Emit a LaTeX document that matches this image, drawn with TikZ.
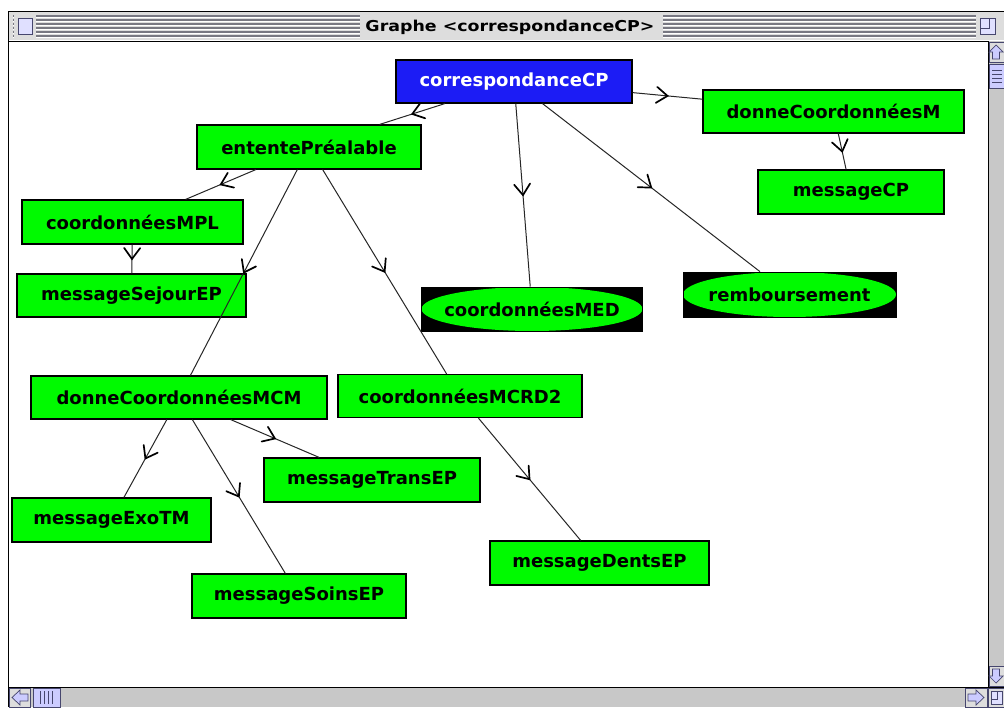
\documentclass[tikz,border=0pt]{standalone}
\usepackage{fontspec}
\usetikzlibrary{decorations.markings}
\newfontfamily\nodefont{DejaVu Sans}
\newfontfamily\titlefont{DejaVu Sans}[FakeStretch=1.16]

\definecolor{nodegreen}{RGB}{0,250,0}
\definecolor{rootblue}{RGB}{28,28,245}
\definecolor{barface}{RGB}{221,221,221}
\definecolor{stripe}{RGB}{120,120,130}
\definecolor{lavender}{RGB}{204,204,255}
\definecolor{lavedge}{RGB}{70,70,110}
\definecolor{track}{RGB}{200,200,200}

\tikzset{
  gbox/.style={draw=black, line width=1.2pt, fill=nodegreen, inner sep=0pt,
    font=\nodefont\bfseries\fontsize{18}{20}\selectfont, text=black},
  rootbox/.style={gbox, fill=rootblue, text=white},
  ovalbox/.style 2 args={draw=black, line width=0.8pt, fill=black, inner sep=0pt,
    font=\nodefont\bfseries\fontsize{18}{20}\selectfont, text=black,
    path picture={\fill[nodegreen] (path picture bounding box.center)
      ellipse [x radius=#1, y radius=#2];}},
  % open barbed head placed halfway along each connector
  link/.style={draw=black!85, line width=1pt,
    decoration={markings, mark=at position 0.5 with
      {\draw[black, line width=1.7pt, line cap=round, line join=miter]
         (-11pt,8pt) .. controls (-6pt,4pt) .. (0pt,0pt)
         .. controls (-6pt,-4pt) .. (-11pt,-8pt);}},
    postaction={decorate}},
  chrome/.style={draw=black, line width=1pt},
  scrollbtn/.style={fill=barface, draw=lavedge, line width=0.6pt},
  glyph/.style={fill=lavender, draw=lavedge, line width=0.7pt},
}

\begin{document}
\begin{tikzpicture}[x=1pt,y=-1pt]
\useasboundingbox (0,0) rectangle (1004,707);
\fill[white] (0,0) rectangle (1004,707);

% ---------- window title bar ----------
\fill[barface] (9,11) rectangle (1004,40);
\foreach \yy in {16,20,24,28,32,36}{
  \draw[stripe, line width=1.1pt] (13,\yy) -- (360,\yy) (663,\yy) -- (977,\yy);
  \draw[white, line width=0.8pt] (13,\yy+1.3) -- (360,\yy+1.3) (663,\yy+1.3) -- (977,\yy+1.3);
}
% close box
\fill[barface] (14,13) rectangle (36,39);
\draw[lavedge, fill=lavender!60, line width=0.8pt] (18,18) rectangle (32,34);
% zoom box
\fill[barface] (976,13) rectangle (1000,39);
\draw[lavedge, fill=lavender!60, line width=0.8pt] (980,18) rectangle (995,34);
\draw[lavedge, line width=0.8pt] (980,28) -- (989,28) -- (989,18);
\node[font=\titlefont\bfseries\fontsize{15}{17}\selectfont, inner sep=0pt] (title)
  at (510,27) {Graphe <correspondanceCP>};

\draw[chrome] (8,11) -- (1004,11);
\draw[chrome] (8,11) -- (8,707);
\draw[chrome] (8,41) -- (1004,41);

% ---------- vertical scroll bar ----------
\fill[track] (988,41) rectangle (1004,687);
\draw[chrome] (988,41) -- (988,707);
\draw[scrollbtn] (989,42) rectangle (1004,62);
\draw[glyph] (996,45) -- (1003,52) -- (999.5,52) -- (999.5,59) -- (992.5,59) -- (992.5,52) -- (989,52) -- cycle;
\draw[fill=lavender, draw=lavedge, line width=0.6pt] (989,64) rectangle (1004,88);
\foreach \yy in {70,74,78,82}
  \draw[lavedge, line width=0.6pt] (992,\yy) -- (1002,\yy);
\draw[scrollbtn] (989,666) rectangle (1004,686);
\draw[glyph] (996,683) -- (1003,676) -- (999.5,676) -- (999.5,669) -- (992.5,669) -- (992.5,676) -- (989,676) -- cycle;

% ---------- horizontal scroll bar ----------
\fill[track] (9,688) rectangle (988,707);
\draw[chrome] (8,687) -- (1004,687);
\draw[scrollbtn] (9,688) rectangle (30,707);
\draw[glyph] (12,697.5) -- (20,690) -- (20,694) -- (28,694) -- (28,701) -- (20,701) -- (20,705) -- cycle;
\draw[fill=lavender, draw=lavedge, line width=0.6pt] (33,688) rectangle (60,707);
\foreach \xx in {40,44,48,52}
  \draw[lavedge, line width=0.6pt] (\xx,691) -- (\xx,704);
\draw[scrollbtn] (965,688) rectangle (987,707);
\draw[glyph] (984,697.5) -- (976,690) -- (976,694) -- (968,694) -- (968,701) -- (976,701) -- (976,705) -- cycle;
\draw[scrollbtn] (988,688) rectangle (1004,707);
\draw[lavedge, fill=lavender!60, line width=0.6pt] (991,691) rectangle (1002,704);
\draw[lavedge, line width=0.6pt] (991,699) -- (997,699) -- (997,691);

% ---------- graph nodes ----------
\node[rootbox, minimum width=236pt, minimum height=43pt] (cp)    at (514,81.5)   {correspondanceCP};
\node[gbox,    minimum width=261pt, minimum height=43pt] (dcm)   at (833.5,111.5) {donneCoordonnéesM};
\node[gbox,    minimum width=224pt, minimum height=44pt] (ep)    at (309,147)    {ententePréalable};
\node[gbox,    minimum width=186pt, minimum height=44pt] (mcp)   at (851,192)    {messageCP};
\node[gbox,    minimum width=221pt, minimum height=44pt] (mpl)   at (132.5,222)  {coordonnéesMPL};
\node[gbox,    minimum width=229pt, minimum height=43pt] (mse)   at (131.5,295.5) {messageSejourEP};
\node[ovalbox={110.5pt}{22pt}, minimum width=221pt, minimum height=44pt] (med) at (532,309) {coordonnéesMED};
\node[ovalbox={106.5pt}{22.5pt}, minimum width=213pt, minimum height=45pt] (rmb) at (789.5,294.5) {remboursement};
\node[gbox,    minimum width=296pt, minimum height=43pt] (mcm)   at (179,397.5)  {donneCoordonnéesMCM};
\node[gbox,    minimum width=244pt, minimum height=43pt] (mcrd)  at (460,396)    {coordonnéesMCRD2};
\node[gbox,    minimum width=216pt, minimum height=44pt] (mtr)   at (372,480)    {messageTransEP};
\node[gbox,    minimum width=199pt, minimum height=44pt] (mex)   at (111.5,520)  {messageExoTM};
\node[gbox,    minimum width=219pt, minimum height=44pt] (mde)   at (599.5,563)  {messageDentsEP};
\node[gbox,    minimum width=214pt, minimum height=44pt] (mso)   at (299,596)    {messageSoinsEP};

% ---------- connectors ----------
\draw[link] (cp) -- (ep);
\draw[link] (cp) -- (dcm);
\draw[link] (cp) -- (med);
\draw[link] (cp) -- (rmb);
\draw[link] (dcm) -- (mcp);
\draw[link] (ep) -- (mpl);
\draw[link] (ep) -- (mcm);
\draw[link] (ep) -- (mcrd);
\draw[link] (mpl) -- (mse);
\draw[link] (mcm) -- (mex);
\draw[link] (mcm) -- (mso);
\draw[link] (mcm) -- (mtr);
\draw[link] (mcrd) -- (mde);
\end{tikzpicture}
\end{document}
